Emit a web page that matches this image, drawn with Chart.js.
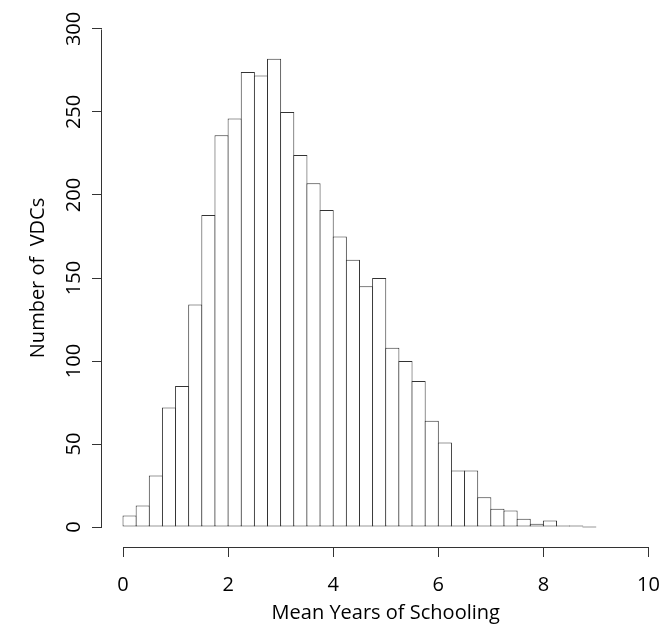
<!DOCTYPE html>
<html>
<head>
<meta charset="utf-8">
<script src="https://cdn.jsdelivr.net/npm/chart.js@4.4.0/dist/chart.umd.min.js"></script>
<style>
  html, body { margin: 0; padding: 0; background: #fff; }
</style>
</head>
<body>
<canvas id="hist" width="659" height="625"></canvas>
<script>
// mean years of schooling per VDC, bins of 0.25 years starting at 0
const binStart = 0;
const binWidth = 0.25;
const counts = [7, 13, 31, 72, 85, 134, 188, 236, 246, 274, 272, 282, 250, 224, 207, 191, 175, 161,
                145, 150, 108, 100, 88, 64, 51, 34, 34, 18, 11, 10, 5, 2, 4, 1, 1, 0];
const xTicks = [0, 2, 4, 6, 8, 10];
const yTicks = [0, 50, 100, 150, 200, 250, 300];
const xLabel = 'Mean Years of Schooling';
const yLabel = 'Number of  VDCs';

const ink = '#333';
const textColor = '#000';
const family = '"Open Sans", "Noto Sans", sans-serif';
const fontSize = 20;

const points = counts.map((c, i) => ({ x: binStart + binWidth * (i + 0.5), y: c }));

// axis lines only span first..last tick, y labels turned sideways, plus both titles
const rAxes = {
  id: 'rAxes',
  afterDraw(chart) {
    const ctx = chart.ctx;
    const xs = chart.scales.x, ys = chart.scales.y;
    const area = chart.chartArea;
    ctx.save();
    ctx.strokeStyle = ink;
    ctx.lineWidth = 1;

    const by = Math.round(area.bottom) + 0.5;
    const lx = Math.round(area.left) - 0.5;
    ctx.beginPath();
    ctx.moveTo(Math.round(xs.getPixelForValue(xTicks[0])) + 0.5, by);
    ctx.lineTo(Math.round(xs.getPixelForValue(xTicks[xTicks.length - 1])) + 0.5, by);
    ctx.moveTo(lx, Math.round(ys.getPixelForValue(yTicks[0])) + 0.5);
    ctx.lineTo(lx, Math.round(ys.getPixelForValue(yTicks[yTicks.length - 1])) + 0.5);
    ctx.stroke();

    ctx.fillStyle = textColor;
    ctx.font = fontSize + 'px ' + family;
    ctx.textAlign = 'center';
    ctx.textBaseline = 'middle';
    yTicks.forEach(v => {
      ctx.save();
      ctx.translate(area.left - 28, ys.getPixelForValue(v));
      ctx.rotate(-Math.PI / 2);
      ctx.fillText(String(v), 0, 0);
      ctx.restore();
    });

    // titles centred on the padded plot region (4% beyond the data range)
    const cx = (xs.getPixelForValue(-0.4) + xs.getPixelForValue(10.4)) / 2;
    ctx.textBaseline = 'alphabetic';
    ctx.fillText(xLabel, cx, 619);

    const cy = (area.top + area.bottom) / 2;
    ctx.save();
    ctx.translate(44, cy);
    ctx.rotate(-Math.PI / 2);
    ctx.fillText(yLabel, 0, 0);
    ctx.restore();
    ctx.restore();
  }
};

new Chart(document.getElementById('hist'), {
  type: 'bar',
  data: {
    datasets: [{
      data: points,
      backgroundColor: '#fff',
      borderColor: ink,
      borderWidth: 1,
      borderSkipped: false,
      inflateAmount: 0,
      minBarLength: 1,
      categoryPercentage: 1,
      // a touch over 1 so neighbouring bars share one outline
      barPercentage: 1.076
    }]
  },
  options: {
    responsive: false,
    animation: false,
    layout: { padding: { top: 9, left: 0, right: 0, bottom: 0 } },
    plugins: { legend: { display: false }, tooltip: { enabled: false } },
    scales: {
      x: {
        type: 'linear',
        offset: false,
        min: -0.4,
        max: 10.2,
        afterBuildTicks: s => { s.ticks = xTicks.map(v => ({ value: v })); },
        afterFit: s => { s.height = 78; s.paddingLeft = 0; s.paddingRight = 0; },
        grid: { offset: false, drawOnChartArea: false, drawTicks: true, tickLength: 10, color: ink, lineWidth: 1 },
        border: { display: false },
        ticks: {
          color: textColor,
          font: { family: family, size: fontSize },
          padding: 16,
          maxRotation: 0,
          autoSkip: false
        }
      },
      y: {
        min: -12,
        max: 312,
        afterBuildTicks: s => { s.ticks = yTicks.map(v => ({ value: v })); },
        afterFit: s => { s.width = 102; },
        grid: { drawOnChartArea: false, drawTicks: true, tickLength: 10, color: ink, lineWidth: 1 },
        border: { display: false },
        ticks: { display: false }
      }
    }
  },
  plugins: [rAxes]
});
</script>
</body>
</html>
